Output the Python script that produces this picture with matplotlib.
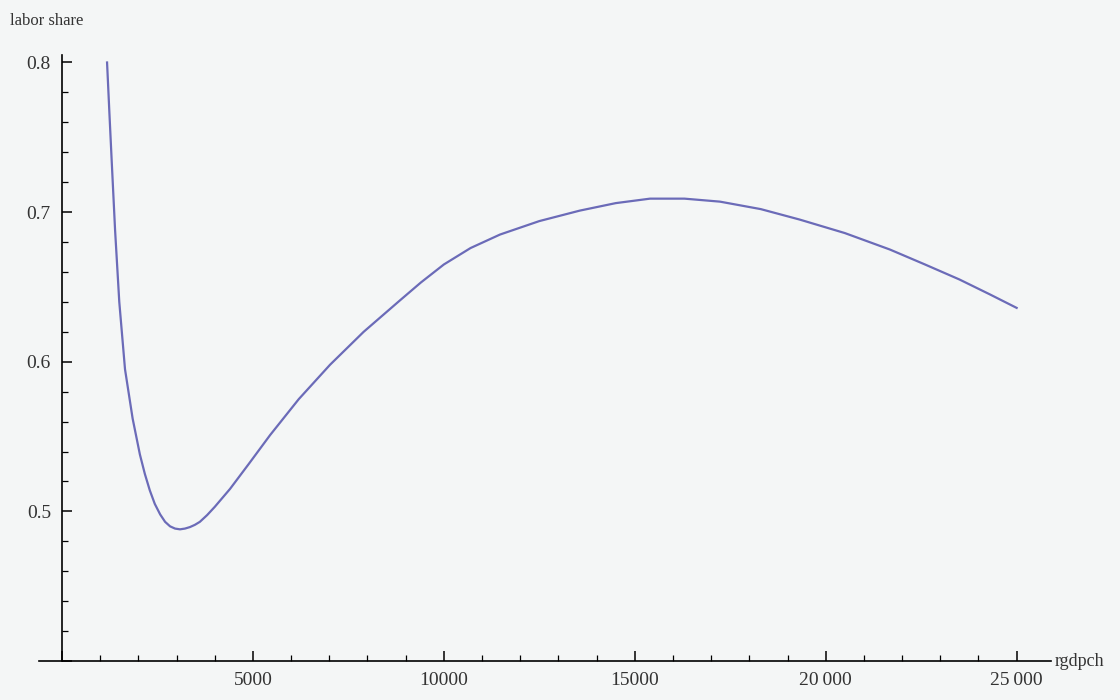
import matplotlib.pyplot as plt
from matplotlib.ticker import MultipleLocator, FuncFormatter

# values
rgdpch = [1180, 1240, 1300, 1390, 1500, 1650, 1850, 2040, 2170, 2300, 2430, 2570,
          2700, 2830, 2960, 3090, 3220, 3350, 3480, 3610, 3800, 4000, 4200, 4400,
          4900, 5450, 6200, 7020, 7900, 8850, 9400, 10000, 10700, 11470, 12500,
          13560, 14500, 15400, 16300, 17230, 18300, 19320, 20500, 21680, 22600,
          23500, 24300, 25000]
labor_share = [0.800, 0.767, 0.735, 0.688, 0.640, 0.595, 0.562, 0.538, 0.525, 0.514,
               0.505, 0.498, 0.493, 0.490, 0.4885, 0.488, 0.4885, 0.4895, 0.491, 0.493,
               0.4975, 0.503, 0.509, 0.515, 0.532, 0.551, 0.575, 0.598, 0.620,
               0.641, 0.653, 0.665, 0.676, 0.685, 0.694, 0.701, 0.706, 0.709, 0.709,
               0.707, 0.702, 0.695, 0.686, 0.675, 0.665, 0.655, 0.645, 0.636]

bg = "#f4f6f6"
fig = plt.figure(figsize=(11.2, 7), dpi=100, facecolor=bg)
ax = fig.add_axes([62 / 1120, 39 / 700, 989 / 1120, 606 / 700], facecolor=bg)
ax.plot(rgdpch, labor_share, color="#6b6bb8", linewidth=1.6)

ax.set_xlim(0, 25900)
ax.set_ylim(0.4, 0.805)
for side in ("top", "right"):
    ax.spines[side].set_visible(False)
for side in ("left", "bottom"):
    ax.spines[side].set_linewidth(1.2)
ax.spines["bottom"].set_bounds(-600, 25900)

ax.xaxis.set_major_locator(MultipleLocator(5000))
ax.xaxis.set_minor_locator(MultipleLocator(1000))
ax.yaxis.set_major_locator(MultipleLocator(0.1))
ax.yaxis.set_minor_locator(MultipleLocator(0.02))
ax.tick_params(direction="in", length=7, width=1.1, labelsize=14, pad=8,
               labelfontfamily="Liberation Serif", labelcolor="#333333")
ax.tick_params(which="minor", direction="in", length=4, width=0.9)


def xfmt(v, _):
    if v <= 0:
        return ""
    s = f"{int(v)}"
    return s if v < 20000 else s[:-3] + "\u2009" + s[-3:]


def yfmt(v, _):
    return "" if v < 0.45 else f"{v:.1f}"


ax.xaxis.set_major_formatter(FuncFormatter(xfmt))
ax.yaxis.set_major_formatter(FuncFormatter(yfmt))

fig.text(10 / 1120, 1 - 25 / 700, "labor share", fontsize=12,
         family="Liberation Serif", color="#333333")
fig.text(1055 / 1120, 1 - 666 / 700, "rgdpch", fontsize=13,
         family="Liberation Serif", color="#333333")

fig.savefig("out.png", dpi=100, facecolor=bg)
